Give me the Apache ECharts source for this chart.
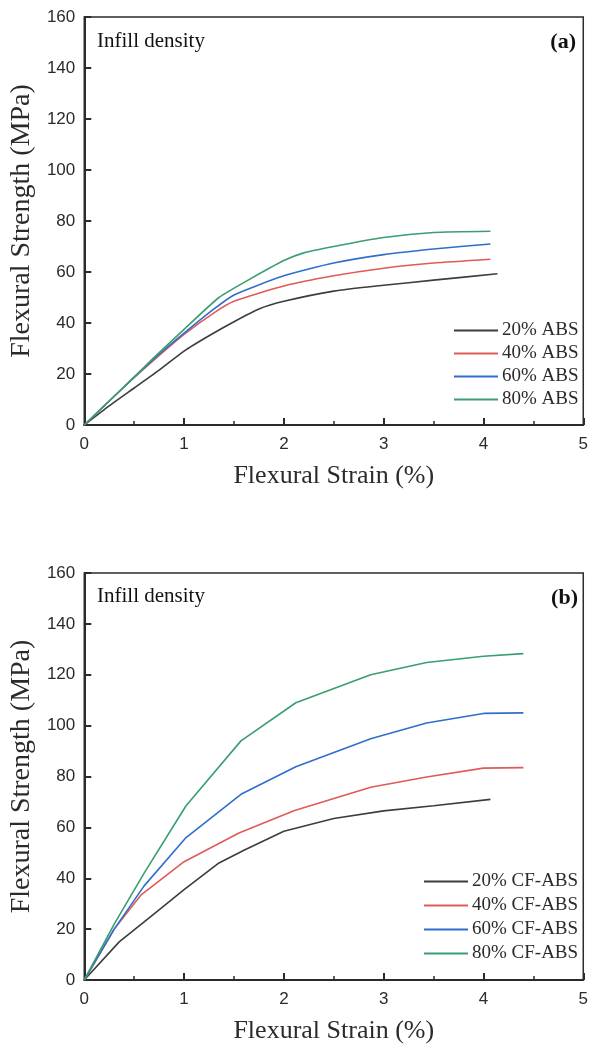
<!DOCTYPE html>
<html>
<head>
<meta charset="utf-8">
<script src="https://cdn.jsdelivr.net/npm/echarts@6/dist/echarts.min.js"></script>
<style>
  html, body { margin: 0; padding: 0; background: #fff; }
  #chart { width: 591px; height: 1045px; }
</style>
</head>
<body>
<div id="chart"></div>
<script>
// Flexural stress-strain curves, neat ABS (a) and CF-ABS (b), by infill density
const namesA = ['20% ABS', '40% ABS', '60% ABS', '80% ABS'];
const namesB = ['20% CF-ABS', '40% CF-ABS', '60% CF-ABS', '80% CF-ABS'];
const colors = ['#3d3d3d', '#e05a57', '#2f6ecb', '#3a9e70'];

// (a) neat ABS: strain (%) and strength (MPa)
const strainA20 = [0, 0.25, 0.5, 0.75, 1.0, 1.25, 1.5, 1.75, 2.0, 2.5, 3.0, 3.5, 4.14];
const stressA20 = [0, 7.5, 14.5, 21.5, 29, 35, 40.5, 45.5, 48.5, 52.5, 54.8, 56.8, 59.3];
const strainA40 = [0, 0.4, 0.7, 1.0, 1.3, 1.5, 2.0, 2.5, 3.0, 3.5, 4.07];
const stressA40 = [0, 15, 25.5, 35.5, 44, 48.5, 54.5, 58.5, 61.5, 63.5, 65];
const strainA60 = [0, 0.4, 0.7, 1.0, 1.3, 1.5, 2.0, 2.5, 3.0, 3.5, 4.07];
const stressA60 = [0, 15, 26, 36, 45.5, 51, 58.5, 63.5, 66.8, 69, 71];
const strainA80 = [0, 0.4, 0.7, 1.0, 1.35, 1.65, 2.0, 2.2, 2.5, 3.0, 3.5, 4.07];
const stressA80 = [0, 15, 26.5, 37.5, 50, 57, 64.5, 67.5, 70, 73.5, 75.5, 76];

// (b) CF-ABS: strain (%) and strength (MPa)
const strainB20 = [0, 0.35, 0.7, 1.0, 1.35, 1.6, 2.0, 2.5, 3.0, 3.5, 4.07];
const stressB20 = [0, 15, 26, 35.5, 46, 51, 58.5, 63.5, 66.5, 68.5, 71];
const strainB40 = [0, 0.3, 0.57, 1.0, 1.55, 2.1, 2.87, 3.43, 4.0, 4.4];
const stressB40 = [0, 20, 33.5, 46.5, 57.8, 66.5, 75.8, 79.8, 83.3, 83.5];
const strainB60 = [0, 0.3, 0.6, 1.02, 1.57, 2.12, 2.87, 3.43, 4.0, 4.4];
const stressB60 = [0, 20, 37, 56, 73, 83.8, 94.8, 101, 104.8, 105];
const strainB80 = [0, 0.3, 0.6, 1.02, 1.57, 2.12, 2.87, 3.43, 4.0, 4.4];
const stressB80 = [0, 22, 42, 68.5, 94, 109, 120, 124.8, 127.3, 128.3];

const xTicks = [0, 1, 2, 3, 4, 5];
const yTicks = [0, 20, 40, 60, 80, 100, 120, 140, 160];

const pairs = (xs, ys) => xs.map((x, i) => [x, ys[i]]);
const curvesA = [[strainA20, stressA20], [strainA40, stressA40], [strainA60, stressA60], [strainA80, stressA80]];
const curvesB = [[strainB20, stressB20], [strainB40, stressB40], [strainB60, stressB60], [strainB80, stressB80]];

const serif = '"Liberation Serif", "DejaVu Serif", serif';
const sans = '"Liberation Sans", Arial, sans-serif';
const ink = '#2b2b2b';

function xAxisFor(gridIndex) {
  return {
    gridIndex, type: 'value',
    min: xTicks[0], max: xTicks[xTicks.length - 1], interval: 1,
    name: 'Flexural Strain (%)', nameLocation: 'middle', nameGap: 38,
    nameTextStyle: { fontFamily: serif, fontSize: 26, color: ink },
    axisLine: { show: true, lineStyle: { color: ink, width: 2 } },
    axisTick: { show: true, inside: true, length: 7, lineStyle: { color: ink, width: 2 } },
    minorTick: { show: true, splitNumber: 2, length: 4, lineStyle: { color: ink, width: 1.5 } },
    axisLabel: { fontFamily: sans, fontSize: 17, color: ink, margin: 11 },
    splitLine: { show: false }
  };
}
function yAxisFor(gridIndex) {
  return {
    gridIndex, type: 'value',
    min: yTicks[0], max: yTicks[yTicks.length - 1], interval: 20,
    name: 'Flexural Strength (MPa)', nameLocation: 'middle', nameGap: 41,
    nameTextStyle: { fontFamily: serif, fontSize: 28, color: ink },
    axisLine: { show: true, lineStyle: { color: ink, width: 2 } },
    axisTick: { show: true, inside: true, length: 7, lineStyle: { color: ink, width: 2 } },
    axisLabel: { fontFamily: sans, fontSize: 17, color: ink, margin: 9 },
    splitLine: { show: false }
  };
}
function seriesFor(names, curves, gridIndex, smooth) {
  return names.map((name, i) => ({
    name, type: 'line',
    xAxisIndex: gridIndex, yAxisIndex: gridIndex,
    data: pairs(curves[i][0], curves[i][1]),
    symbol: 'none', smooth,
    lineStyle: { color: colors[i], width: 1.6 },
    itemStyle: { color: colors[i] }
  }));
}
function legendFor(names, left, top, gap) {
  return {
    data: names, orient: 'vertical', left, top,
    itemWidth: 44, itemHeight: 14, itemGap: gap, itemStyle: { opacity: 0 },
    textStyle: { fontFamily: serif, fontSize: 19, color: ink, padding: [0, 0, 0, -1] },
    selectedMode: false
  };
}
function panelText(text, x, y, bold, align) {
  return {
    type: 'text', left: align === 'right' ? null : x, right: align === 'right' ? 591 - x : null, top: y,
    style: { text, fontFamily: serif, fontSize: bold ? 22 : 21, fontWeight: bold ? 'bold' : 'normal', fill: '#111' }
  };
}

const chart = echarts.init(document.getElementById('chart'), null, { renderer: 'canvas' });
chart.setOption({
  backgroundColor: '#fff',
  animation: false,
  grid: [
    { left: 82, top: 17, width: 506, height: 408, show: true, borderColor: ink, borderWidth: 1.5, backgroundColor: 'transparent' },
    { left: 82, top: 573, width: 506, height: 407, show: true, borderColor: ink, borderWidth: 1.5, backgroundColor: 'transparent' }
  ],
  xAxis: [xAxisFor(0), xAxisFor(1)],
  yAxis: [yAxisFor(0), yAxisFor(1)],
  legend: [legendFor(namesA, 448, 316, 4), legendFor(namesB, 418, 867, 5)],
  graphic: [
    panelText('Infill density', 97, 31, false),
    panelText('(a)', 576, 31, true, 'right'),
    panelText('Infill density', 97, 586, false),
    panelText('(b)', 578, 587, true, 'right')
  ],
  series: [...seriesFor(namesA, curvesA, 0, 0.2), ...seriesFor(namesB, curvesB, 1, false)]
});
</script>
</body>
</html>
